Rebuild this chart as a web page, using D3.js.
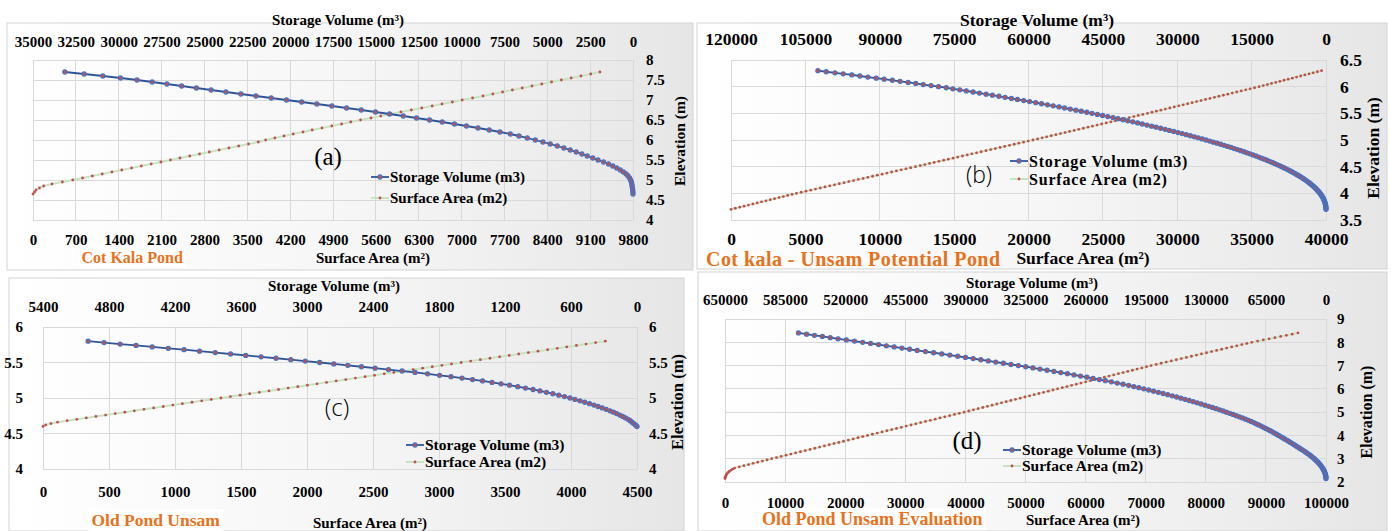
<!DOCTYPE html>
<html>
<head>
<meta charset="utf-8">
<script src="https://cdn.jsdelivr.net/npm/d3@7"></script>
<style>
  body { margin: 0; background: #fff; }
  svg text { font-family: "Liberation Serif", "Times New Roman", serif; font-weight: bold; fill: #000; }
</style>
</head>
<body>
<svg id="chart" width="1391" height="531"></svg>
<script>
'use strict';

// (a) Cot Kala Pond
var elevA = [4.65,4.7,4.75,4.8,4.85,4.9,4.95,5,5.05,5.1,5.15,5.2,5.25,5.3,5.35,5.4,5.45,5.5,5.55,5.6,
  5.65,5.7,5.75,5.8,5.85,5.9,5.95,6,6.05,6.1,6.15,6.2,6.25,6.3,6.35,6.4,6.45,6.5,6.55,6.6,
  6.65,6.7,6.75,6.8,6.85,6.9,6.95,7,7.05,7.1,7.15,7.2,7.25,7.3,7.35,7.4,7.45,7.5,7.55,7.6,7.65,7.7];
var volA = [0,5,15,30,50,70,95,140,200,290,400,560,740,950,1180,1430,1720,2040,2350,2668,
  2981,3312,3662,4031,4420,4827,5254,5700,6166,6651,7157,7763,8387,9043,9718,10414,11131,11868,12627,13403,
  14202,15021,15852,16707,17569,18442,19328,20214,21104,21993,22874,23747,24610,25470,26328,27188,28048,28932,29898,30925,32016,33143];
var areaA = [0,25,50,105,175,310,480,650,810,970,1130,1290,1450,1610,1770,1930,2090,2245,2400,2560,
  2720,2880,3040,3200,3360,3520,3680,3800,3950,4100,4250,4410,4560,4720,4880,5040,5190,5350,5520,5680,
  5850,6010,6180,6350,6520,6680,6850,7010,7180,7350,7510,7670,7830,7990,8150,8310,8470,8630,8790,8950,9110,9260];
var areaTicksA = [0,700,1400,2100,2800,3500,4200,4900,5600,6300,7000,7700,8400,9100,9800];
var volTicksA = [35000,32500,30000,27500,25000,22500,20000,17500,15000,12500,10000,7500,5000,2500,0];
var elevTicksA = [4,4.5,5,5.5,6,6.5,7,7.5,8];

// (b) Cot kala - Unsam Potential Pond
var elevB = [3.7,3.72,3.74,3.76,3.78,3.8,3.82,3.84,3.86,3.88,
  3.9,3.92,3.94,3.96,3.98,4,4.02,4.04,4.06,4.08,
  4.1,4.12,4.14,4.16,4.18,4.2,4.22,4.24,4.26,4.28,
  4.3,4.32,4.34,4.36,4.38,4.4,4.42,4.44,4.46,4.48,
  4.5,4.52,4.54,4.56,4.58,4.6,4.62,4.64,4.66,4.68,
  4.7,4.72,4.74,4.76,4.78,4.8,4.82,4.84,4.86,4.88,
  4.9,4.92,4.94,4.96,4.98,5,5.02,5.04,5.06,5.08,
  5.1,5.12,5.14,5.16,5.18,5.2,5.22,5.24,5.26,5.28,
  5.3,5.32,5.34,5.36,5.38,5.4,5.42,5.44,5.46,5.48,
  5.5,5.52,5.54,5.56,5.58,5.6,5.62,5.64,5.66,5.68,
  5.7,5.72,5.74,5.76,5.78,5.8,5.82,5.84,5.86,5.88,
  5.9,5.92,5.94,5.96,5.98,6,6.02,6.04,6.06,6.08,
  6.1,6.12,6.14,6.16,6.18,6.2,6.22,6.24,6.26,6.28,6.3];
var volB = [0,5,19,44,80,126,183,251,330,421,
  522,634,758,894,1040,1199,1368,1548,1741,1946,
  2161,2390,2628,2878,3141,3415,3701,3999,4306,4628,
  4963,5305,5664,6030,6414,6804,7213,7627,8053,8500,
  8950,9413,9887,10385,10884,11396,11920,12457,13005,13566,
  14140,14726,15325,15936,16559,17195,17843,18505,19160,19847,
  20545,21256,21981,22718,23445,24208,24983,25771,26545,27359,
  28185,29025,29849,30714,31591,32451,33355,34272,35168,36111,
  37067,38000,38982,39977,40947,41968,42961,44009,45070,46100,
  47188,48242,49356,50435,51575,52729,53846,55026,56167,57374,
  58540,59774,60963,62225,63439,64727,65966,67281,68545,69887,
  71175,72545,73858,75254,76592,78150,79640,81226,82742,84273,
  85903,87461,89122,90707,92399,94011,95635,97373,99025,100793,102472];
var areaB = [0,290,590,880,1170,1470,1760,2050,2350,2640,
  2930,3230,3520,3810,4110,4400,4720,5040,5360,5680,
  6000,6320,6640,6960,7280,7600,7920,8240,8560,8880,
  9200,9520,9840,10160,10480,10800,11120,11440,11760,12080,
  12400,12720,13030,13350,13660,13980,14300,14610,14930,15240,
  15560,15880,16190,16510,16820,17140,17460,17770,18090,18400,
  18720,19040,19350,19670,19980,20300,20610,20920,21220,21530,
  21840,22150,22460,22760,23070,23380,23690,24000,24300,24610,
  24920,25230,25540,25840,26150,26460,26770,27080,27380,27690,
  28000,28300,28600,28900,29200,29500,29800,30100,30400,30700,
  31000,31300,31600,31900,32200,32500,32800,33100,33400,33700,
  34000,34300,34600,34900,35200,35500,35780,36060,36340,36620,
  36900,37180,37460,37740,38020,38300,38580,38860,39140,39420,39700];
var areaTicksB = [0,5000,10000,15000,20000,25000,30000,35000,40000];
var volTicksB = [120000,105000,90000,75000,60000,45000,30000,15000,0];
var elevTicksB = [3.5,4,4.5,5,5.5,6,6.5];

// (c) Old Pond Unsam
var elevC = [4.6,4.62,4.64,4.66,4.68,4.7,4.72,4.74,4.76,4.78,
  4.8,4.82,4.84,4.86,4.88,4.9,4.92,4.94,4.96,4.98,
  5,5.02,5.04,5.06,5.08,5.1,5.12,5.14,5.16,5.18,
  5.2,5.22,5.24,5.26,5.28,5.3,5.32,5.34,5.36,5.38,
  5.4,5.42,5.44,5.46,5.48,5.5,5.52,5.54,5.56,5.58,
  5.6,5.62,5.64,5.66,5.68,5.7,5.72,5.74,5.76,5.78,5.8];
var volC = [0,14,29,45,62,80,105,130,156,185,
  214,245,280,316,354,391,432,475,518,564,
  609,659,711,765,823,882,945,1014,1084,1159,
  1236,1318,1404,1495,1591,1691,1795,1904,2018,2136,
  2259,2381,2505,2629,2757,2885,3016,3147,3282,3417,
  3557,3695,3834,3977,4118,4261,4407,4554,4699,4845,4990];
var areaC = [0,20,60,110,183,256,328,401,474,547,
  620,692,765,838,911,984,1056,1129,1202,1275,
  1348,1420,1493,1566,1639,1712,1784,1857,1930,2003,
  2076,2148,2221,2294,2367,2440,2512,2585,2658,2731,
  2804,2876,2949,3022,3095,3168,3240,3313,3386,3459,
  3532,3604,3677,3750,3823,3896,3968,4041,4114,4187,4260];
var areaTicksC = [0,500,1000,1500,2000,2500,3000,3500,4000,4500];
var volTicksC = [5400,4800,4200,3600,3000,2400,1800,1200,600,0];
var elevTicksC = [4,4.5,5,5.5,6];

// (d) Old Pond Unsam Evaluation
var elevD = [2.15,2.2,2.25,2.3,2.35,2.4,2.45,2.5,2.55,2.6,
  2.65,2.7,2.75,2.8,2.85,2.9,2.95,3,3.05,3.1,
  3.15,3.2,3.25,3.3,3.35,3.4,3.45,3.5,3.55,3.6,
  3.65,3.7,3.75,3.8,3.85,3.9,3.95,4,4.05,4.1,
  4.15,4.2,4.25,4.3,4.35,4.4,4.45,4.5,4.55,4.6,
  4.65,4.7,4.75,4.8,4.85,4.9,4.95,5,5.05,5.1,
  5.15,5.2,5.25,5.3,5.35,5.4,5.45,5.5,5.55,5.6,
  5.65,5.7,5.75,5.8,5.85,5.9,5.95,6,6.05,6.1,
  6.15,6.2,6.25,6.3,6.35,6.4,6.45,6.5,6.55,6.6,
  6.65,6.7,6.75,6.8,6.85,6.9,6.95,7,7.05,7.1,
  7.15,7.2,7.25,7.3,7.35,7.4,7.45,7.5,7.55,7.6,
  7.65,7.7,7.75,7.8,7.85,7.9,7.95,8,8.05,8.1,
  8.15,8.2,8.25,8.3,8.35,8.4];
var volD = [0,56,211,458,794,1216,1724,2316,2990,3746,
  4584,5501,6498,7574,8727,9959,11270,12655,14116,15657,
  17272,18963,20728,22571,24483,26473,28539,30460,32400,34400,
  36400,38450,40510,42610,44730,46880,49050,51250,53460,55690,
  57930,60320,62740,65190,67660,70130,72810,75510,78250,81010,
  83810,87050,90340,93700,97120,100580,104110,107690,111340,115050,
  118800,122760,126800,130900,135090,139310,143590,147980,152410,156920,
  161510,166320,171210,176220,181290,186460,191690,197010,202410,207870,
  213420,219540,225800,232130,238620,245170,251840,258650,265530,272530,
  279660,286870,294280,301710,309310,316940,324770,332720,340730,348940,
  357180,365220,373320,381570,389940,398340,406910,415590,424360,433210,
  442170,450380,458660,467040,475440,483930,492530,501140,509990,518750,
  527700,536150,544630,553250,561780,570550];
var areaD = [0,30,100,200,330,480,700,950,1250,1600,
  2370,3140,3910,4680,5450,6220,7000,7760,8560,9360,
  10160,10960,11750,12550,13350,14150,14950,15740,16540,17340,
  18140,18940,19730,20530,21330,22130,22930,23720,24530,25330,
  26130,26940,27740,28540,29350,30150,30950,31750,32560,33360,
  34160,34970,35770,36570,37380,38180,38980,39780,40560,41340,
  42120,42900,43670,44450,45230,46010,46790,47560,48340,49120,
  49900,50680,51450,52230,53010,53790,54570,55340,56120,56900,
  57680,58460,59230,60010,60790,61570,62350,63120,63900,64680,
  65460,66240,67010,67790,68570,69350,70130,70900,71740,72580,
  73420,74260,75090,75930,76770,77610,78450,79280,80120,80960,
  81800,82640,83470,84310,85150,85990,86830,87660,88620,89580,
  90540,91500,92450,93410,94370,95330];
var areaTicksD = [0,10000,20000,30000,40000,50000,60000,70000,80000,90000,100000];
var volTicksD = [650000,585000,520000,455000,390000,325000,260000,195000,130000,65000,0];
var elevTicksD = [2,3,4,5,6,7,8,9];

var seriesNames = ['Storage Volume (m3)', 'Surface Area (m2)'];
var pondNames = ['Cot Kala Pond', 'Cot kala - Unsam Potential Pond', 'Old Pond Unsam', 'Old Pond Unsam Evaluation'];
var panelTags = ['(a)', '(b)', '(c)', '(d)'];

var volColor = '#2f5597', markFill = '#c0504d', markStroke = '#4472c4', areaColor = '#c6e4c2', orange = '#e8711c';

var svg = d3.select('#chart');
var bg = svg.append('defs').append('linearGradient').attr('id', 'panelBg')
  .attr('x1', '0%').attr('y1', '0%').attr('x2', '100%').attr('y2', '0%');
bg.append('stop').attr('offset', '0%').attr('stop-color', '#ffffff');
bg.append('stop').attr('offset', '50%').attr('stop-color', '#f6f6f6');
bg.append('stop').attr('offset', '100%').attr('stop-color', '#e6e6e6');

//panel layout
var panels = [
  { elev: elevA, vol: volA, area: areaA, areaTicks: areaTicksA, volTicks: volTicksA, elevTicks: elevTicksA,
    box: [7, 23, 686, 247], l: 33, r: 633, t: 60, b: 220, fs: 15, topBase: 46.7, bottomBase: 245, rightX: 646,
    topTitle: [338, 24.5], bottomTitle: [373, 263], elevTitle: [680, 141, 15.5],
    name: [pondNames[0], 81.5, 263, 16, true, 0], tag: [panelTags[0], 328, 165, 25, 'serif'],
    legend: [371, 177, 198, 15, 0] },
  { elev: elevB, vol: volB, area: areaB, areaTicks: areaTicksB, volTicks: volTicksB, elevTicks: elevTicksB,
    box: [697, 23, 690, 246], l: 731, r: 1326, t: 60, b: 220, fs: 17.5, topBase: 45, bottomBase: 245, rightX: 1340,
    topTitle: [1037, 25.5], bottomTitle: [1083, 264], elevTitle: [1372.5, 148, 17.5],
    name: [pondNames[1], 706, 265.5, 20, false, 0.45], tag: [panelTags[1], 979, 183, 23, 'sans'],
    legend: [1010, 161, 179, 16, 0.8] },
  { elev: elevC, vol: volC, area: areaC, areaTicks: areaTicksC, volTicks: volTicksC, elevTicks: elevTicksC,
    box: [9, 278, 675, 253], l: 43, r: 637, t: 327, b: 469, fs: 15, topBase: 311.5, bottomBase: 496.5, rightX: 649, leftX: 23,
    topTitle: [334, 290.5], bottomTitle: [370, 528], elevTitle: [677, 402, 16.5],
    name: [pondNames[2], 91.5, 526, 17.5, true, 0], tag: [panelTags[2], 337, 416, 24, 'sans'],
    legend: [406, 445, 462, 15.5, 0] },
  { elev: elevD, vol: volD, area: areaD, areaTicks: areaTicksD, volTicks: volTicksD, elevTicks: elevTicksD,
    box: [698, 272, 689, 259], l: 725, r: 1326, t: 319, b: 482, fs: 15, topBase: 304.5, bottomBase: 508, rightX: 1337,
    topTitle: [1032, 288], bottomTitle: [1083, 525], elevTitle: [1366.5, 412, 16],
    name: [pondNames[3], 762, 525, 18, true, 0], tag: [panelTags[3], 967, 449, 25, 'serif'],
    legend: [1003, 450, 466, 15.5, 0] }
];

panels.forEach(drawPanel);

function tidy(ax, fs) {
  ax.select('.domain').remove();
  ax.selectAll('text').style('font-size', fs + 'px');
}

function drawPanel(p) {
  var g = svg.append('g');
  g.append('rect')
    .attr('x', p.box[0]).attr('y', p.box[1]).attr('width', p.box[2]).attr('height', p.box[3])
    .attr('fill', 'url(#panelBg)').attr('stroke', '#d3d3d3');

  var x = d3.scaleLinear().domain([0, d3.max(p.areaTicks)]).range([p.l, p.r]);
  var xTop = d3.scaleLinear().domain([d3.max(p.volTicks), 0]).range([p.l, p.r]);
  var y = d3.scaleLinear().domain(d3.extent(p.elevTicks)).range([p.b, p.t]);

  //grid
  var grid = g.append('g').attr('stroke', '#d9d9d9').attr('shape-rendering', 'crispEdges');
  grid.selectAll('.v').data(p.areaTicks).enter().append('line').attr('class', 'v')
    .attr('x1', function (d) { return x(d); }).attr('x2', function (d) { return x(d); })
    .attr('y1', p.t).attr('y2', p.b);
  grid.selectAll('.h').data(p.elevTicks).enter().append('line').attr('class', 'h')
    .attr('x1', p.l).attr('x2', p.r)
    .attr('y1', function (d) { return y(d); }).attr('y2', function (d) { return y(d); });

  //axes
  var fmt = function (d) { return String(d); };
  var fs = p.fs;
  var ax = g.append('g').attr('transform', 'translate(0,' + p.b + ')')
    .call(d3.axisBottom(x).tickValues(p.areaTicks).tickSize(0).tickPadding(p.bottomBase - p.b - 0.71 * fs).tickFormat(fmt));
  tidy(ax, fs);
  ax = g.append('g').attr('transform', 'translate(0,' + p.t + ')')
    .call(d3.axisTop(xTop).tickValues(p.volTicks).tickSize(0).tickPadding(p.t - p.topBase).tickFormat(fmt));
  tidy(ax, fs);
  ax = g.append('g').attr('transform', 'translate(' + p.r + ',0)')
    .call(d3.axisRight(y).tickValues(p.elevTicks).tickSize(0).tickPadding(p.rightX - p.r).tickFormat(fmt));
  tidy(ax, fs);
  if (p.leftX) {
    ax = g.append('g').attr('transform', 'translate(' + p.l + ',0)')
      .call(d3.axisLeft(y).tickValues(p.elevTicks).tickSize(0).tickPadding(p.l - p.leftX).tickFormat(fmt));
    tidy(ax, fs);
  }

  //series
  var rows = p.elev.map(function (e, i) { return { e: e, v: p.vol[i], a: p.area[i] }; });
  g.append('path').datum(rows)
    .attr('fill', 'none').attr('stroke', areaColor).attr('stroke-width', 2)
    .attr('d', d3.line().x(function (d) { return x(d.a); }).y(function (d) { return y(d.e); }));
  g.selectAll('.adot').data(rows).enter().append('circle').attr('class', 'adot')
    .attr('cx', function (d) { return x(d.a); }).attr('cy', function (d) { return y(d.e); })
    .attr('r', 1.4).attr('fill', markFill);

  g.append('path').datum(rows)
    .attr('fill', 'none').attr('stroke', volColor).attr('stroke-width', 1.8)
    .attr('d', d3.line().x(function (d) { return xTop(d.v); }).y(function (d) { return y(d.e); }));
  g.selectAll('.vdot').data(rows).enter().append('circle').attr('class', 'vdot')
    .attr('cx', function (d) { return xTop(d.v); }).attr('cy', function (d) { return y(d.e); })
    .attr('r', 2.1).attr('fill', markFill).attr('stroke', markStroke).attr('stroke-width', 1.1);

  //titles
  g.append('text').attr('x', p.topTitle[0]).attr('y', p.topTitle[1]).attr('text-anchor', 'middle')
    .style('font-size', fs + 'px').text('Storage Volume (m\u00b3)');
  g.append('text').attr('x', p.bottomTitle[0]).attr('y', p.bottomTitle[1]).attr('text-anchor', 'middle')
    .style('font-size', fs + 'px').text('Surface Area (m\u00b2)');
  g.append('text')
    .attr('transform', 'translate(' + p.elevTitle[0] + ',' + p.elevTitle[1] + ') rotate(-90)')
    .attr('text-anchor', 'middle').attr('dy', '0.35em')
    .style('font-size', p.elevTitle[2] + 'px').text('Elevation (m)');

  var nm = g.append('text').attr('x', p.name[1]).attr('y', p.name[2])
    .style('font-size', p.name[3] + 'px').style('letter-spacing', p.name[5] + 'px')
    .style('fill', orange).text(p.name[0]);
  if (p.name[4]) {
    var bb = nm.node().getBBox();
    g.insert('rect', function () { return nm.node(); })
      .attr('x', bb.x - 3).attr('y', bb.y - 1).attr('width', bb.width + 6).attr('height', bb.height + 2)
      .attr('fill', '#fff');
  }

  var tag = g.append('text').attr('x', p.tag[1]).attr('y', p.tag[2]).attr('text-anchor', 'middle')
    .style('font-size', p.tag[3] + 'px').style('font-weight', 'normal').text(p.tag[0]);
  if (p.tag[4] === 'sans') tag.style('font-family', '"Open Sans", sans-serif').style('font-weight', '300');

  //legend
  var lg = p.legend, lw = 18;
  seriesNames.forEach(function (s, i) {
    var ly = i === 0 ? lg[1] : lg[2];
    g.append('line').attr('x1', lg[0]).attr('x2', lg[0] + lw).attr('y1', ly).attr('y2', ly)
      .attr('stroke', i === 0 ? volColor : areaColor).attr('stroke-width', i === 0 ? 1.8 : 2);
    var c = g.append('circle').attr('cx', lg[0] + lw / 2).attr('cy', ly).attr('fill', markFill);
    if (i === 0) c.attr('r', 2.1).attr('stroke', markStroke).attr('stroke-width', 1.1);
    else c.attr('r', 1.4);
    g.append('text').attr('x', lg[0] + lw + 1).attr('y', ly).attr('dy', '0.35em')
      .style('font-size', lg[3] + 'px').style('letter-spacing', lg[4] + 'px').text(s);
  });
}
</script>
</body>
</html>
